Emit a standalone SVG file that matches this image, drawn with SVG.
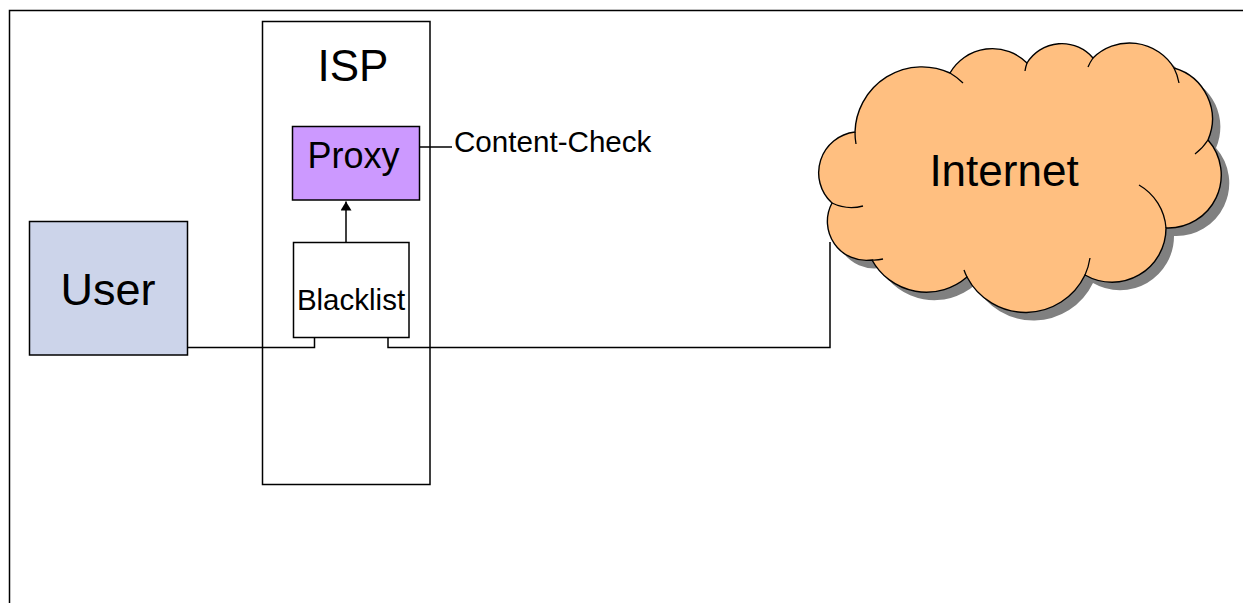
<svg xmlns="http://www.w3.org/2000/svg" width="1243" height="603" viewBox="0 0 1243 603">
  <style>
    .box { stroke: #000; stroke-width: 1.5; }
    .lbl { font-family: "Liberation Sans", Arial, sans-serif; fill: #000; }
    .conn { fill: none; stroke: #000; stroke-width: 1.5; }
    .tail { fill: none; stroke: #000; stroke-width: 1.3; }
  </style>
  <defs>
    <marker id="arr" markerWidth="10" markerHeight="12" refX="9" refY="5.5" orient="auto" markerUnits="userSpaceOnUse">
      <path d="M0,0 L9,5.5 L0,11 z" fill="#000"/>
    </marker>
    <path id="cloudShape" d="M 832 203 A 41 41 0 0 1 855 132 A 67 67 0 0 1 950 73 A 49 49 0 0 1 1027 63 A 41 41 0 0 1 1093 58 A 52 52 0 0 1 1174 68 A 53 53 0 0 1 1208 140 A 53 53 0 0 1 1166 228 A 54 54 0 0 1 1085 275 A 66 66 0 0 1 967 277 A 62 62 0 0 1 872 260 A 39 39 0 0 1 832 203 Z"/>
  </defs>
  <rect width="1243" height="603" fill="#fff"/>
  <rect id="frame" x="9.5" y="10.5" width="1300" height="700" fill="none" stroke="#000" stroke-width="1.5"/>

  <g id="isp">
    <rect class="box" x="262.5" y="21.5" width="167.5" height="463" fill="#fff"/>
    <text class="lbl" x="353" y="81" font-size="44" text-anchor="middle">ISP</text>
  </g>

  <g id="connectors">
    <polyline class="conn" points="188,347.5 314.5,347.5 314.5,337.5"/>
    <polyline class="conn" points="388,337.5 388,347.5 830,347.5 830,242"/>
    <line class="conn" x1="346" y1="242.5" x2="346" y2="201.5" marker-end="url(#arr)"/>
    <line class="conn" x1="419.5" y1="147" x2="452" y2="147"/>
  </g>

  <g id="user">
    <rect class="box" x="29.5" y="221.5" width="158" height="133.5" fill="#ccd4ea"/>
    <text class="lbl" x="108" y="304.5" font-size="45" text-anchor="middle">User</text>
  </g>

  <g id="proxy">
    <rect class="box" x="292.5" y="126.5" width="127" height="73.5" fill="#cc99ff"/>
    <text class="lbl" x="353.5" y="168" font-size="36" text-anchor="middle">Proxy</text>
  </g>

  <g id="blacklist">
    <rect class="box" x="293.5" y="242.5" width="115.5" height="95" fill="#fff"/>
    <text class="lbl" x="351" y="310" font-size="29.5" text-anchor="middle">Blacklist</text>
  </g>

  <g id="content-check">
    <text class="lbl" x="454" y="152" font-size="29.6">Content-Check</text>
  </g>

  <g id="internet">
    <use href="#cloudShape" transform="translate(8,8)" fill="#808080"/>
    <use href="#cloudShape" fill="#ffbf80" stroke="#000" stroke-width="1.4"/>
    <path class="tail" d="M 856 144 A 67 67 0 0 1 855 132"/>
    <path class="tail" d="M 950 73 A 67 67 0 0 1 963 83"/>
    <path class="tail" d="M 1025 71 A 41 41 0 0 1 1027 63"/>
    <path class="tail" d="M 1088 67 A 52 52 0 0 1 1093 58"/>
    <path class="tail" d="M 1174 68 A 52 52 0 0 1 1179 83"/>
    <path class="tail" d="M 1208 140 A 53 53 0 0 1 1195 154"/>
    <path class="tail" d="M 1139 185 A 54 54 0 0 1 1166 228"/>
    <path class="tail" d="M 1090 258 A 66 66 0 0 1 1085 275"/>
    <path class="tail" d="M 967 277 A 66 66 0 0 1 964 270"/>
    <path class="tail" d="M 883 259 A 39 39 0 0 1 872 260"/>
    <path class="tail" d="M 863 206 A 45 45 0 0 1 832 203"/>
    <text class="lbl" x="1004" y="186" font-size="44" text-anchor="middle">Internet</text>
  </g>
</svg>
